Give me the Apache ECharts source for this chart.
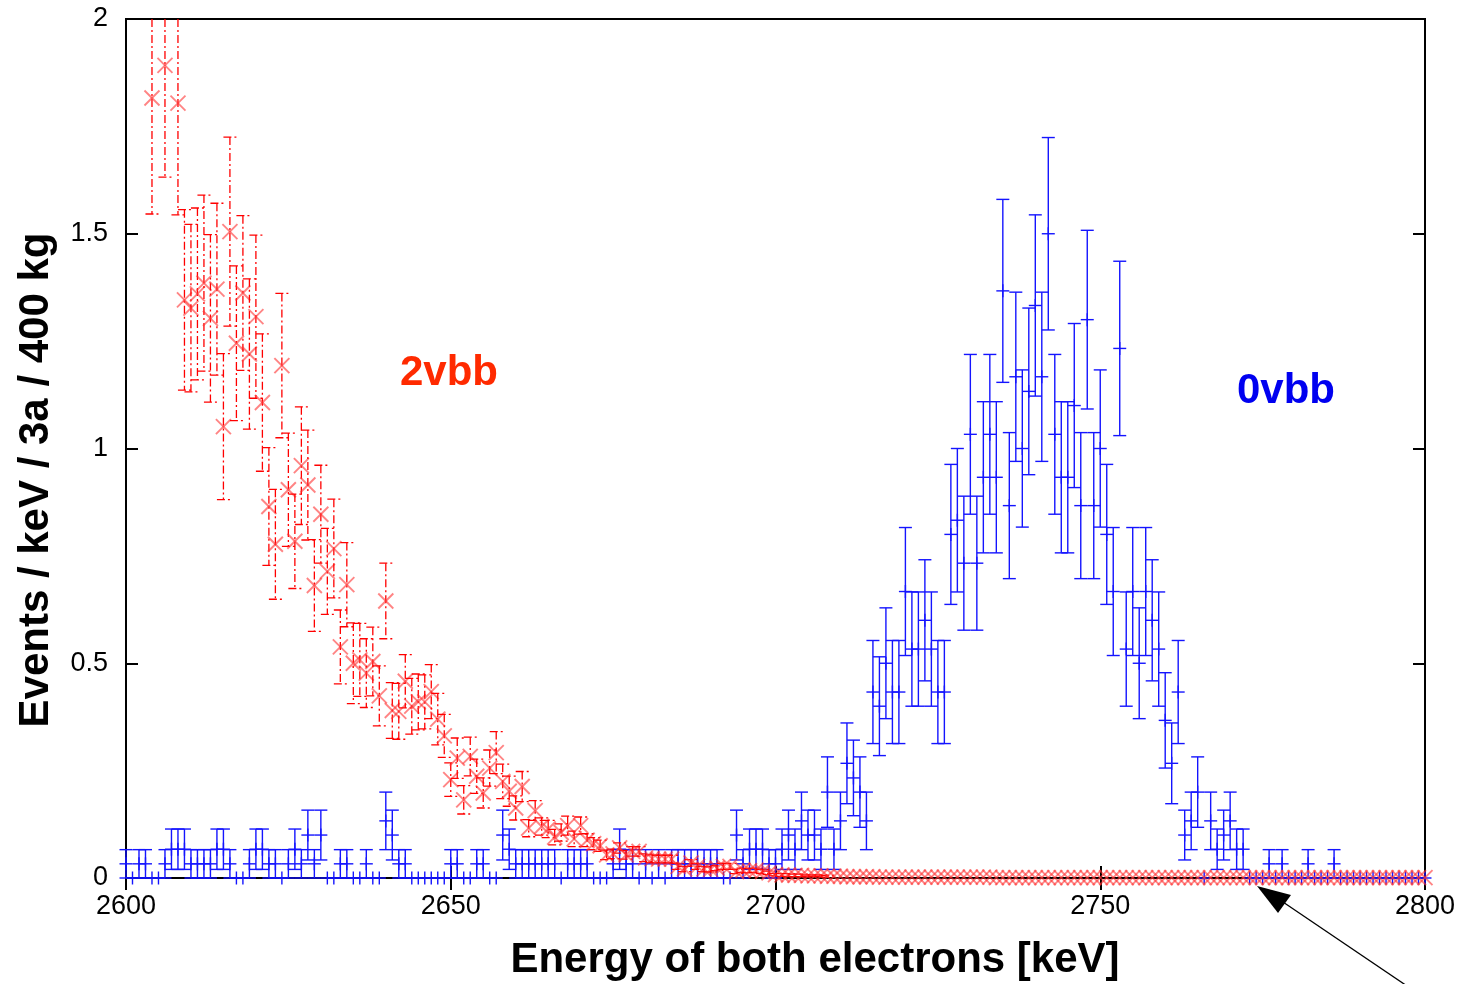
<!DOCTYPE html>
<html>
<head>
<meta charset="utf-8">
<script src="https://cdn.jsdelivr.net/npm/echarts@6/dist/echarts.min.js"></script>
<style>
  html, body { margin: 0; padding: 0; background: #fff; }
  #chart { width: 1465px; height: 984px; }
</style>
</head>
<body>
<div id="chart"></div>
<script>
// ---------------- data ----------------
// axis ranges and ticks
const xTicks = [2600, 2650, 2700, 2750, 2800];
const yTicks = [0, 0.5, 1, 1.5, 2];

// 0vbb: 1 keV bins starting at 2600 keV
const signalStart = 2600;
const signalStep = 1;
const signalValue = [
  0.033,0,0.033,0.033,0,0,0.033,0.067,0.067,0.067,
  0.033,0.033,0.033,0.033,0.067,0.067,0.033,0,0,0.033,
  0.067,0.067,0.033,0.033,0,0.033,0.067,0.033,0.1,0.033,
  0.1,0,0,0.033,0.033,0,0,0.033,0,0,
  0.133,0.1,0.033,0.033,0,0,0,0,0,0,
  0.033,0.033,0,0,0.033,0.033,0,0,0.1,0.067,
  0.033,0.033,0.033,0.033,0.033,0.033,0.033,0,0.033,0.033,
  0.033,0.033,0,0,0,0.033,0.067,0.033,0.033,0,
  0.033,0,0.033,0,0.033,0.033,0.033,0.033,0.033,0.033,
  0.033,0.033,0,0,0.1,0.033,0.067,0.067,0.067,0.033,
  0.033,0.067,0.1,0.067,0.133,0.1,0.1,0.067,0.2,0.067,
  0.133,0.267,0.233,0.2,0.133,0.433,0.4,0.5,0.433,0.433,
  0.667,0.533,0.533,0.6,0.533,0.433,0.433,0.8,0.833,0.733,
  1.033,0.733,0.933,1.033,0.933,1.367,0.867,1.167,1.0,1.133,
  1.333,1.167,1.5,1.033,0.933,0.933,1.1,0.867,1.3,0.867,
  1.0,0.8,0.667,1.233,0.533,0.667,0.5,0.667,0.6,0.533,
  0.367,0.267,0.433,0.1,0.133,0.2,0,0.133,0.067,0.1,
  0.133,0.067,0.067,0,0,0,0.033,0,0.033,0,
  0,0,0.033,0,0,0,0.033,0,0,0,
  0,0,0,0,0,0,0,0,0,0,0
];
const signalError = [
  0.033,0,0.033,0.033,0,0,0.033,0.047,0.047,0.047,
  0.033,0.033,0.033,0.033,0.047,0.047,0.033,0,0,0.033,
  0.047,0.047,0.033,0.033,0,0.033,0.047,0.033,0.058,0.033,
  0.058,0,0,0.033,0.033,0,0,0.033,0,0,
  0.067,0.058,0.033,0.033,0,0,0,0,0,0,
  0.033,0.033,0,0,0.033,0.033,0,0,0.058,0.047,
  0.033,0.033,0.033,0.033,0.033,0.033,0.033,0,0.033,0.033,
  0.033,0.033,0,0,0,0.033,0.047,0.033,0.033,0,
  0.033,0,0.033,0,0.033,0.033,0.033,0.033,0.033,0.033,
  0.033,0.033,0,0,0.058,0.033,0.047,0.047,0.047,0.033,
  0.033,0.047,0.058,0.047,0.067,0.058,0.058,0.047,0.082,0.047,
  0.067,0.094,0.088,0.082,0.067,0.12,0.115,0.129,0.12,0.12,
  0.149,0.133,0.133,0.141,0.133,0.12,0.12,0.163,0.167,0.156,
  0.186,0.156,0.176,0.186,0.176,0.213,0.17,0.197,0.183,0.194,
  0.211,0.197,0.224,0.186,0.176,0.176,0.191,0.17,0.208,0.17,
  0.183,0.163,0.149,0.203,0.133,0.149,0.129,0.149,0.141,0.133,
  0.111,0.094,0.12,0.058,0.067,0.082,0,0.067,0.047,0.058,
  0.067,0.047,0.047,0,0,0,0.033,0,0.033,0,
  0,0,0.033,0,0,0,0.033,0,0,0,
  0,0,0,0,0,0,0,0,0,0,0
];

// 2vbb: three isolated low-energy bins, then contiguous 1 keV bins from 2609 keV
const bgEarlyEnergy = [2604, 2606, 2608];
const bgEarlyValue  = [1.816, 1.892, 1.804];
const bgEarlyError  = [0.27, 0.26, 0.26];
const bgStart = 2609;
const bgStep = 1;
const bgValue = [
  1.346,1.327,1.360,1.385,1.303,1.371,1.051,1.505,1.245,1.362,
  1.220,1.307,1.107,0.865,0.777,1.193,0.904,0.784,0.960,0.915,
  0.681,0.847,0.714,0.767,0.538,0.683,0.500,0.508,0.477,0.504,
  0.424,0.645,0.390,0.388,0.458,0.400,0.410,0.410,0.434,0.370,
  0.331,0.229,0.279,0.182,0.283,0.237,0.198,0.256,0.292,0.225,
  0.202,0.163,0.213,0.116,0.157,0.120,0.114,0.095,0.106,0.122,
  0.091,0.122,0.088,0.080,0.075,0.054,0.056,0.070,0.054,0.062,
  0.062,0.047,0.045,0.044,0.044,0.044,0.027,0.021,0.035,0.027,
  0.021,0.020,0.023,0.027,0.027,0.015,0.018,0.017,0.018,0.015,
  0.012,0.008,0.007,0.007,0.006,0.006,0.005,0.005,0.005,0.004,
  0.004,0.004,0.003,0.003,0.003,0.003,0.003,0.002,0.002,0.002,
  0.002,0.002,0.002,0.002,0.002,0.002,0.002,0.002,0.002,0.002,
  0.002,0.002,0.002,0.002,0.002,0.001,0.001,0.001,0.001,0.001,
  0.001,0.001,0.001,0.001,0.001,0.001,0.001,0.001,0.001,0.001,
  0.001,0.001,0.001,0.001,0.001,0.001,0.001,0.001,0.001,0.001,
  0.001,0.001,0.001,0.001,0.001,0.001,0.001,0.001,0.001,0.001,
  0.001,0.001,0.001,0.001,0.001,0.001,0.001,0.001,0.001,0.001,
  0.001,0.001,0.001,0.001,0.001,0.001,0.001,0.001,0.001,0.001,
  0.001,0.001,0.001,0.001,0.001,0.001,0.001,0.001,0.001,0.001,
  0.001,0.001
];
const bgError = [
  0.21,0.195,0.20,0.205,0.195,0.20,0.17,0.22,0.18,0.18,
  0.175,0.19,0.16,0.137,0.128,0.168,0.132,0.11,0.137,0.128,
  0.107,0.114,0.10,0.115,0.086,0.098,0.094,0.085,0.08,0.08,
  0.07,0.088,0.065,0.065,0.062,0.065,0.065,0.063,0.063,0.06,
  0.05,0.039,0.047,0.033,0.045,0.04,0.035,0.042,0.049,0.04,
  0.035,0.028,0.035,0.02,0.023,0.02,0.02,0.018,0.02,0.022,
  0.018,0.02,0.015,0.014,0.013,0.011,0.011,0.012,0.01,0.011,
  0.011,0.009,0.009,0.009,0.009,0.009,0.007,0.006,0.008,0.007,
  0.006,0.006,0.006,0.007,0.007,0.005,0.005,0.005,0.005,0.005,
  0.004,0.003,0.003,0.003,0.003,0.003,0.002,0.002,0.002,0.002
];

// labels
const xTitle = 'Energy of both electrons [keV]';
const yTitle = 'Events / keV / 3a / 400 kg';
const bgLabel = '2vbb';
const signalLabel = '0vbb';

// ---------------- build series data ----------------
const signalData = signalValue.map((v, i) => [signalStart + i * signalStep, v, signalError[i]]);
const bgData = bgEarlyEnergy.map((e, i) => [e, bgEarlyValue[i], bgEarlyError[i]])
  .concat(bgValue.map((v, i) => [bgStart + i * bgStep, v, bgError[i] || 0]));

const FONT = '"Liberation Sans", Arial, Helvetica, sans-serif';
const BLUE = '#1414ff';
const RED = '#ff0000';
const CAP = 6.5;      // half width of error-bar caps and plus markers, px
const XMARK = 7.5;    // half size of the x-shaped markers, px
const Y_MAX = 2;

function seg(x1, y1, x2, y2, style) {
  return { type: 'line', shape: { x1, y1, x2, y2 }, style };
}

// 0vbb: vertical error bar with caps, plus-shaped point marker
function renderSignal(params, api) {
  const x = api.value(0), v = api.value(1), e = api.value(2);
  const c = api.coord([x, v]);
  const st = { stroke: BLUE, lineWidth: 1.4, fill: null };
  const kids = [];
  if (e > 0) {
    const t = api.coord([x, v + e]);
    const b = api.coord([x, v - e]);
    kids.push(seg(c[0], t[1], c[0], b[1], st));
    kids.push(seg(c[0] - CAP, t[1], c[0] + CAP, t[1], st));
    kids.push(seg(c[0] - CAP, b[1], c[0] + CAP, b[1], st));
  }
  kids.push(seg(c[0] - CAP, c[1], c[0] + CAP, c[1], st));
  kids.push(seg(c[0], c[1] - CAP, c[0], c[1] + CAP, st));
  return { type: 'group', children: kids };
}

// 2vbb: dashed error bar with caps, x-shaped point marker
function renderBackground(params, api) {
  const x = api.value(0), v = api.value(1), e = api.value(2);
  const c = api.coord([x, v]);
  const dash = { stroke: RED, lineWidth: 1.3, lineDash: [8, 3, 2, 3], fill: null };
  const mk = { stroke: 'rgba(255,50,50,0.6)', lineWidth: 1.9, fill: null };
  const kids = [];
  if (e > 0.001) {
    const hi = v + e;
    const t = api.coord([x, Math.min(hi, Y_MAX)]);
    const b = api.coord([x, v - e]);
    kids.push(seg(c[0], t[1], c[0], b[1], dash));
    if (hi <= Y_MAX) kids.push(seg(c[0] - CAP, t[1], c[0] + CAP, t[1], dash));
    kids.push(seg(c[0] - CAP, b[1], c[0] + CAP, b[1], dash));
  }
  kids.push(seg(c[0] - XMARK, c[1] - XMARK, c[0] + XMARK, c[1] + XMARK, mk));
  kids.push(seg(c[0] - XMARK, c[1] + XMARK, c[0] + XMARK, c[1] - XMARK, mk));
  return { type: 'group', children: kids };
}

const chart = echarts.init(document.getElementById('chart'), null, { renderer: 'canvas' });

const tickStyle = { color: '#000', width: 2 };
const labelStyle = { color: '#000', fontSize: 27, fontFamily: FONT, formatter: v => String(v) };

const option = {
  backgroundColor: '#fff',
  animation: false,
  grid: {
    left: 126, top: 19, width: 1299, height: 859,
    show: true, borderColor: '#000', borderWidth: 2, backgroundColor: 'transparent'
  },
  xAxis: [
    {
      type: 'value', min: xTicks[0], max: xTicks[xTicks.length - 1], interval: 50,
      position: 'bottom',
      axisLine: { show: false },
      axisTick: { show: true, inside: true, length: 12, lineStyle: tickStyle },
      axisLabel: Object.assign({ margin: 15 }, labelStyle),
      splitLine: { show: false }
    },
    {
      type: 'value', min: xTicks[0], max: xTicks[xTicks.length - 1], interval: 50,
      position: 'top',
      axisLine: { show: false },
      axisTick: { show: true, inside: true, length: 12, lineStyle: tickStyle },
      axisLabel: { show: false },
      splitLine: { show: false }
    }
  ],
  yAxis: [
    {
      type: 'value', min: yTicks[0], max: yTicks[yTicks.length - 1], interval: 0.5,
      position: 'left',
      axisLine: { show: false },
      axisTick: { show: true, inside: true, length: 12, lineStyle: tickStyle },
      axisLabel: Object.assign({ margin: 18 }, labelStyle),
      splitLine: { show: false }
    },
    {
      type: 'value', min: yTicks[0], max: yTicks[yTicks.length - 1], interval: 0.5,
      position: 'right',
      axisLine: { show: false },
      axisTick: { show: true, inside: true, length: 12, lineStyle: tickStyle },
      axisLabel: { show: false },
      splitLine: { show: false }
    }
  ],
  series: [
    {
      name: signalLabel, type: 'custom', xAxisIndex: 0, yAxisIndex: 0,
      renderItem: renderSignal, data: signalData, clip: false,
      encode: { x: 0, y: 1 }, z: 3
    },
    {
      name: bgLabel, type: 'custom', xAxisIndex: 0, yAxisIndex: 0,
      renderItem: renderBackground, data: bgData, clip: false,
      encode: { x: 0, y: 1 }, z: 4
    }
  ],
  graphic: [
    {
      type: 'text', x: 815, y: 960, z: 10,
      style: { text: xTitle, font: 'bold 42px ' + FONT, fill: '#000', align: 'center', verticalAlign: 'middle' }
    },
    {
      type: 'text', x: 36, y: 480, rotation: Math.PI / 2, z: 10,
      style: { text: yTitle, font: 'bold 42px ' + FONT, fill: '#000', align: 'center', verticalAlign: 'middle' }
    },
    {
      type: 'text', x: 449, y: 373, z: 10,
      style: { text: bgLabel, font: 'bold 42px ' + FONT, fill: '#ff2a00', align: 'center', verticalAlign: 'middle' }
    },
    {
      type: 'text', x: 1286, y: 391, z: 10,
      style: { text: signalLabel, font: 'bold 42px ' + FONT, fill: '#0000f0', align: 'center', verticalAlign: 'middle' }
    },
    {
      type: 'line', z: 10,
      shape: { x1: 1410, y1: 988, x2: 1280, y2: 900 },
      style: { stroke: '#000', lineWidth: 1.3 }
    },
    {
      type: 'polygon', z: 10,
      shape: { points: [[1257, 886], [1291, 895], [1278, 913]] },
      style: { fill: '#000' }
    }
  ]
};

chart.setOption(option);
</script>
</body>
</html>
